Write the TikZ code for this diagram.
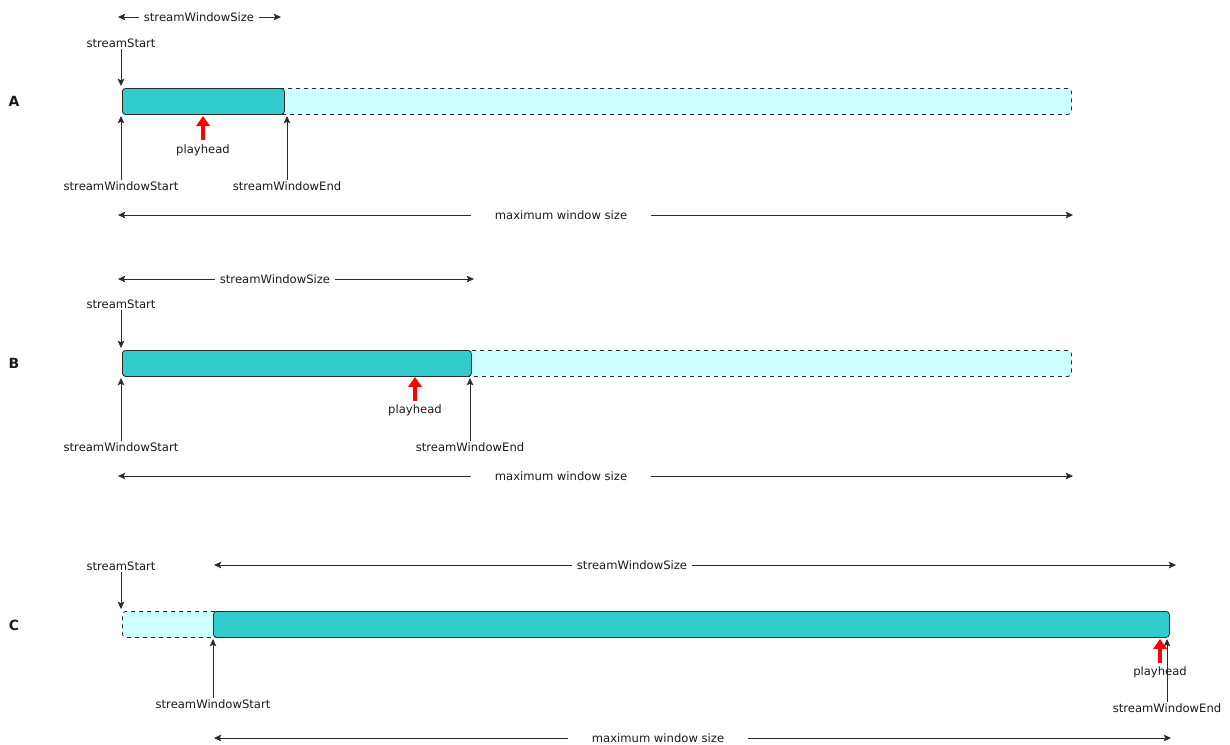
\documentclass[tikz,border=0pt]{standalone}
\usepackage{fontspec}
\setmainfont{DejaVu Sans}
\usetikzlibrary{arrows.meta}
\definecolor{tealbar}{HTML}{33CCCC}
\definecolor{lightbar}{HTML}{CCFFFF}
\definecolor{ink}{HTML}{1A1A1A}
\definecolor{linegray}{HTML}{2A2A2A}
\begin{document}
\begin{tikzpicture}[x=0.75pt,y=-0.75pt,
  lbl/.style={font=\fontsize{8.7}{10}\selectfont, text=ink, inner sep=1pt},
  midlbl/.style={lbl, inner xsep=3.5pt},
  rowlbl/.style={font=\fontsize{10.5}{12}\selectfont\bfseries, text=ink},
  solidbar/.style={draw=linegray, fill=tealbar, rounded corners=2.5pt, minimum height=19.5pt, anchor=north west, inner sep=0pt, line width=0.6pt},
  dashbar/.style={draw=linegray, fill=lightbar, dashed, rounded corners=2.5pt, minimum height=19.5pt, anchor=north west, inner sep=0pt, line width=0.6pt},
  ptr/.style={draw=linegray, line width=0.6pt, -{Stealth[length=5.5pt,width=5pt,inset=1.2pt]}},
  dptr/.style={draw=linegray, line width=0.6pt, {Stealth[length=5.5pt,width=5pt,inset=1.2pt]}-},
  play/.style={draw=red, line width=3pt, -{Triangle[length=7.5pt,width=10pt]}}
]
\useasboundingbox (0,0) rectangle (1230,744);

% ================= A =================
\node[rowlbl] (lA) at (14,101) {A};
\node[dashbar, minimum width=711.75pt] (lightA) at (122,88) {};
\node[solidbar, minimum width=121.5pt] (tealA) at (122,88) {};
% streamWindowSize
\node[midlbl] (wsA) at (199,17) {streamWindowSize};
\coordinate (wsAl) at (118,17);
\coordinate (wsAr) at (281,17);
\draw[dptr] (wsAl) -- (wsA.west);
\draw[ptr] (wsA.east) -- (wsAr);
% streamStart
\node[lbl] (ssA) at (121,43) {streamStart};
\coordinate (ssAt) at (121,86);
\draw[ptr] (ssA.south) -- (ssAt);
% playhead
\node[lbl] (phA) at (203,150) {playhead};
\coordinate (phAs) at (203,140);
\coordinate (phAt) at (203,116);
\draw[play] (phAs) -- (phAt);
% window start / end
\node[lbl] (wstA) at (121,186) {streamWindowStart};
\coordinate (wstAt) at (121,116);
\draw[ptr] (wstA.north) -- (wstAt);
\node[lbl] (weA) at (287,186) {streamWindowEnd};
\coordinate (weAt) at (287,116);
\draw[ptr] (weA.north) -- (weAt);
% maximum window size
\node[lbl, inner xsep=18pt] (mA) at (561,215) {maximum window size};
\coordinate (mAl) at (118,215);
\coordinate (mAr) at (1073,215);
\draw[dptr] (mAl) -- (mA.west);
\draw[ptr] (mA.east) -- (mAr);

% ================= B =================
\node[rowlbl] (lB) at (14,363) {B};
\node[dashbar, minimum width=711.75pt] (lightB) at (122,350) {};
\node[solidbar, minimum width=261.75pt] (tealB) at (122,350) {};
\node[midlbl] (wsB) at (275,279) {streamWindowSize};
\coordinate (wsBl) at (118,279);
\coordinate (wsBr) at (474,279);
\draw[dptr] (wsBl) -- (wsB.west);
\draw[ptr] (wsB.east) -- (wsBr);
\node[lbl] (ssB) at (121,304) {streamStart};
\coordinate (ssBt) at (121,348);
\draw[ptr] (ssB.south) -- (ssBt);
\node[lbl] (phB) at (415,410) {playhead};
\coordinate (phBs) at (415,401);
\coordinate (phBt) at (415,377);
\draw[play] (phBs) -- (phBt);
\node[lbl] (wstB) at (121,447) {streamWindowStart};
\coordinate (wstBt) at (121,378);
\draw[ptr] (wstB.north) -- (wstBt);
\node[lbl] (weB) at (470,447) {streamWindowEnd};
\coordinate (weBt) at (470,378);
\draw[ptr] (weB.north) -- (weBt);
\node[lbl, inner xsep=18pt] (mB) at (561,476) {maximum window size};
\coordinate (mBl) at (118,476);
\coordinate (mBr) at (1073,476);
\draw[dptr] (mBl) -- (mB.west);
\draw[ptr] (mB.east) -- (mBr);

% ================= C =================
\node[rowlbl] (lC) at (14,625) {C};
\node[dashbar, minimum width=72pt] (lightC) at (122,611) {};
\node[solidbar, minimum width=717pt] (tealC) at (213,611) {};
\node[midlbl] (wsC) at (632,565) {streamWindowSize};
\coordinate (wsCl) at (214,565);
\coordinate (wsCr) at (1176,565);
\draw[dptr] (wsCl) -- (wsC.west);
\draw[ptr] (wsC.east) -- (wsCr);
\node[lbl] (ssC) at (121,566) {streamStart};
\coordinate (ssCt) at (121,609);
\draw[ptr] (ssC.south) -- (ssCt);
\node[lbl] (wstC) at (213,704) {streamWindowStart};
\coordinate (wstCt) at (213,639);
\draw[ptr] (wstC.north) -- (wstCt);
\node[lbl] (weC) at (1167,708) {streamWindowEnd};
\coordinate (weCt) at (1167,639);
\draw[ptr] (weC.north) -- (weCt);
\node[lbl] (phC) at (1160,672) {playhead};
\coordinate (phCs) at (1160,663);
\coordinate (phCt) at (1160,639);
\draw[play] (phCs) -- (phCt);
\node[lbl, inner xsep=18pt] (mC) at (658,738) {maximum window size};
\coordinate (mCl) at (214,738);
\coordinate (mCr) at (1171,738);
\draw[dptr] (mCl) -- (mC.west);
\draw[ptr] (mC.east) -- (mCr);
\end{tikzpicture}
\end{document}
